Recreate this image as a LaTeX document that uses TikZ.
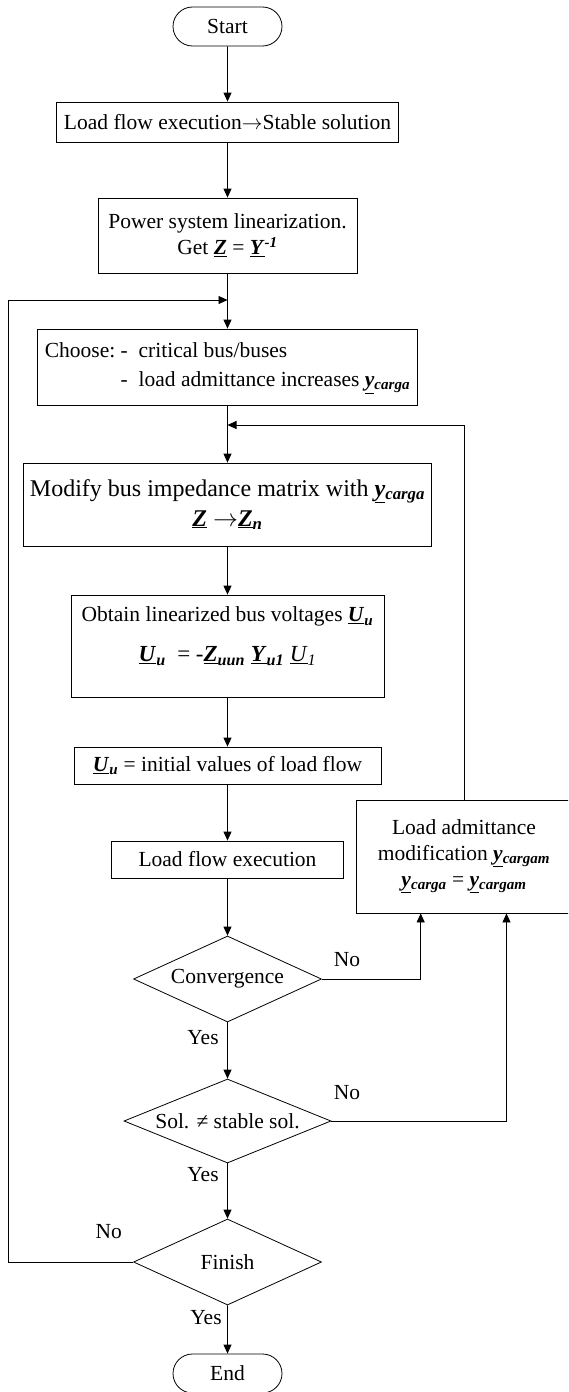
\documentclass[tikz,border=0pt]{standalone}
\usepackage{fontspec}
\setmainfont{Liberation Serif}
\usetikzlibrary{arrows.meta, positioning, shapes.geometric, shapes.misc}

\newcommand{\vb}[1]{\underline{\textbf{\textit{#1}}}}
\newcommand{\sbb}[1]{\textsubscript{\textbf{\textit{#1}}}}

\begin{document}
\begin{tikzpicture}[->, >={Triangle[length=9pt,width=8pt]}, line width=0.8pt, x=1pt, y=1pt,
  every node/.style={font=\fontsize{21.5}{26}\selectfont},
  terminal/.style={rounded rectangle, draw, minimum width=109pt, minimum height=39pt, inner sep=0pt},
  proceso/.style={rectangle, draw, align=center, inner sep=3pt},
  decision/.style={diamond, draw, aspect=2.3, inner sep=0pt, minimum width=188pt, minimum height=86pt}]
\useasboundingbox (0,0) rectangle (568,-1392);
\clip (0,0) rectangle (568,-1392);

% Nodos
\node[terminal] (start) at (227.5,-26.5) {Start};
\node[proceso, minimum width=342pt, minimum height=40pt] (flow) at (227.5,-122) {Load flow execution$\rightarrow$Stable solution};
\node[proceso, minimum width=259pt, minimum height=75pt] (linear) at (227.5,-235.5) {Power system linearization.\\Get \vb{Z} = \vb{Y}\textsuperscript{\textbf{\textit{-1}}}};
\node[proceso, minimum width=380pt, minimum height=76pt] (choose) at (227.5,-367) {\begin{tabular}{@{}l@{\ }l@{\ \ }l@{}}Choose: & - & critical bus/buses\\[3pt] & - & load admittance increases \vb{y}\sbb{carga}\end{tabular}};
\node[proceso, minimum width=408.5pt, minimum height=83pt, font=\fontsize{24}{30}\selectfont] (modify) at (227.5,-504.5) {Modify bus impedance matrix with \vb{y}\sbb{carga}\\\vb{Z} $\rightarrow$\vb{Z}\sbb{n}};
\node[proceso, minimum width=313pt, minimum height=102pt] (obtain) at (227.5,-646) {Obtain linearized bus voltages \vb{U}\sbb{u}\\[14pt]{\fontsize{23}{28}\selectfont\vb{U}\sbb{u} \ = -\vb{Z}\sbb{uun} \vb{Y}\sbb{u1} \underline{\textit{U}}\textsubscript{\textit{1}}}\\[-3pt]\mbox{}};
\node[proceso, minimum width=307pt, minimum height=37pt] (initial) at (227.5,-765.5) {\vb{U}\sbb{u} = initial values of load flow};
\node[proceso, minimum width=231.5pt, minimum height=37pt] (execute) at (227.5,-859.5) {Load flow execution};
\node[decision] (conv) at (227.5,-979) {Convergence};
\node[decision, minimum width=207pt, minimum height=84pt] (stable) at (227.5,-1121) {Sol. ≠ stable sol.};
\node[decision] (finish) at (227.5,-1262) {Finish};
\node[terminal] (stop) at (227.5,-1373.5) {End};
\node[proceso, minimum width=216pt, minimum height=113pt] (admit) at (464,-856.5) {Load admittance\\modification \vb{y}\sbb{cargam}\\\vb{y}\sbb{carga} = \vb{y}\sbb{cargam}};

\coordinate (m1) at (227.5,-300);
\coordinate (c1) at (8,-300);
\coordinate (m2) at (227.5,-425);

% Conexiones
\path
(start) edge (flow)
(flow) edge (linear)
(linear) edge (choose)
(choose) edge (modify)
(modify) edge (obtain)
(obtain) edge (initial)
(initial) edge (execute)
(execute) edge (conv)
(conv) edge (stable)
(stable) edge (finish)
(finish) edge (stop);
\draw (finish.west) -| (c1) -- (m1);
\draw (admit.north) |- (m2);
\draw (conv.east) -| ([xshift=-43.3pt]admit.south);
\draw (stable.east) -| ([xshift=42.5pt]admit.south);

% Etiquetas
\node (no1) at (347,-960) {No};
\node (yes1) at (203,-1038) {Yes};
\node (no2) at (347,-1093) {No};
\node (yes2) at (203,-1175) {Yes};
\node (no3) at (108.7,-1232) {No};
\node (yes3) at (206,-1318) {Yes};
\end{tikzpicture}
\end{document}
